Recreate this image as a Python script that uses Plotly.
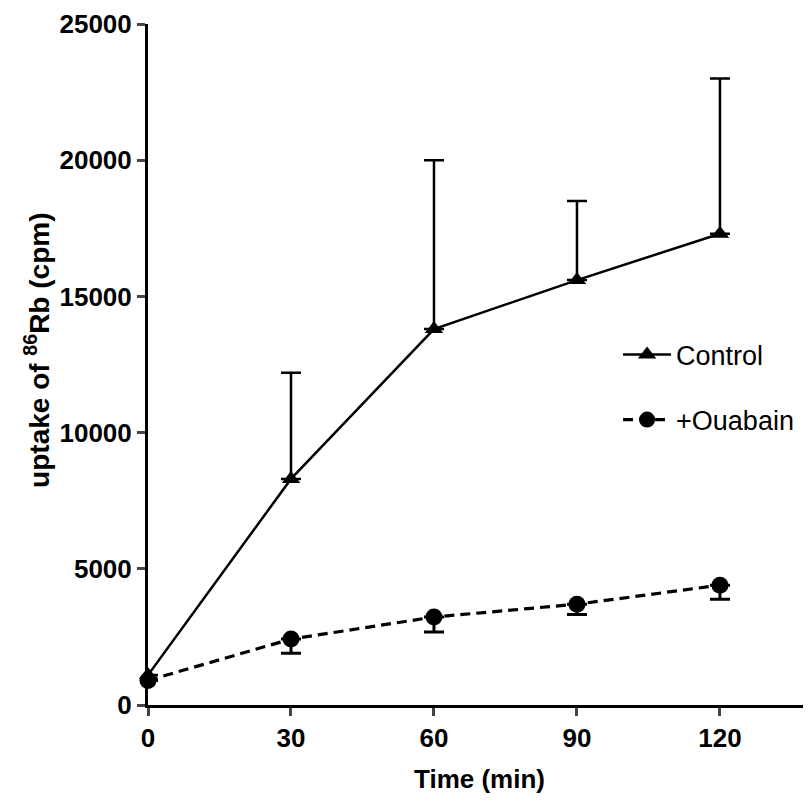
import plotly.graph_objects as go

time_min = [0, 30, 60, 90, 120]
control_mean = [1100, 8300, 13800, 15600, 17300]
control_err_up = [0, 3900, 6200, 2900, 5700]
ouabain_mean = [900, 2420, 3230, 3700, 4400]
ouabain_err_down = [0, 520, 550, 380, 520]

x_ticks = [0, 30, 60, 90, 120]
y_ticks = [0, 5000, 10000, 15000, 20000, 25000]

FONT = "Liberation Sans, Arial, sans-serif"

fig = go.Figure()
fig.add_trace(go.Scatter(
    x=time_min, y=control_mean, mode="lines+markers", name="Control",
    line=dict(color="black", width=2.5),
    marker=dict(symbol="triangle-up", size=16, color="black"),
    error_y=dict(type="data", symmetric=False, array=control_err_up,
                 arrayminus=[0] * len(control_err_up),
                 color="black", thickness=2.5, width=10),
    cliponaxis=False, legend="legend",
))
fig.add_trace(go.Scatter(
    x=time_min, y=ouabain_mean, mode="lines+markers", name="+Ouabain",
    line=dict(color="black", width=3.2, dash="10px,6px"),
    marker=dict(symbol="circle", size=17, color="black"),
    error_y=dict(type="data", symmetric=False, array=[0] * len(ouabain_err_down),
                 arrayminus=ouabain_err_down,
                 color="black", thickness=3, width=10),
    cliponaxis=False, legend="legend2",
))

fig.add_annotation(
    text="<b>uptake of <sup>86</sup>Rb (cpm)</b>", textangle=-90,
    xref="paper", yref="paper", x=-0.1674, y=0.52,
    xanchor="center", yanchor="middle", showarrow=False,
    font=dict(size=28, family=FONT, color="black"),
)

fig.update_layout(
    width=803, height=795,
    margin=dict(l=140, r=0, t=16, b=98),
    plot_bgcolor="white", paper_bgcolor="white",
    font=dict(family=FONT, color="black"),
    xaxis=dict(
        range=[0, 139.1], tickvals=x_ticks, tickformat="d", ticks="outside", ticklen=8, tickwidth=3,
        showline=True, linewidth=3, linecolor="black", showgrid=False, zeroline=False,
        tickfont=dict(size=26, family=FONT, weight="bold"), automargin=False,
        title=dict(text="<b>Time (min)</b>", font=dict(size=26), standoff=18),
    ),
    yaxis=dict(
        range=[0, 25000], tickvals=y_ticks, tickformat="d", ticks="outside", ticklen=8, tickwidth=3,
        showline=True, linewidth=3, linecolor="black", showgrid=False, zeroline=False,
        tickfont=dict(size=26, family=FONT, weight="bold"), automargin=False,
    ),
    showlegend=True,
    legend=dict(x=0.709, y=0.514, xanchor="left", yanchor="middle", itemwidth=48,
                font=dict(size=27, family=FONT), bgcolor="rgba(0,0,0,0)"),
    legend2=dict(x=0.709, y=0.4185, xanchor="left", yanchor="middle", itemwidth=48,
                 font=dict(size=27, family=FONT), bgcolor="rgba(0,0,0,0)"),
)

fig.write_html("out.html")
